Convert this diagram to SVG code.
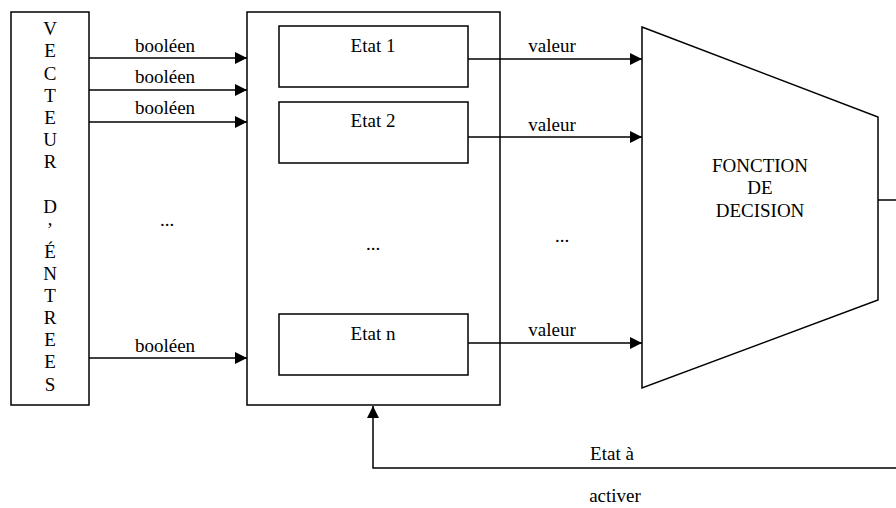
<svg xmlns="http://www.w3.org/2000/svg" width="896" height="508" viewBox="0 0 896 508">
<defs>
<marker id="arr" viewBox="0 0 12 12" refX="12" refY="6" markerWidth="12" markerHeight="12" markerUnits="userSpaceOnUse" orient="auto">
<path d="M0,0 L12,6 L0,12 Z" fill="#000"/>
</marker>
</defs>
<style>
.box{fill:#fff;stroke:#000;stroke-width:1.5}
.t{font-family:"Liberation Serif","Times New Roman",serif;font-size:19px;fill:#000;text-anchor:middle}
.c{fill:none;stroke:#000;stroke-width:1.5;marker-end:url(#arr)}
</style>
<rect width="896" height="508" fill="#fff"/>
<g id="vecteur">
<rect class="box" x="11" y="12" width="78" height="393"/>
<text class="t" x="50" y="35">V</text>
<text class="t" x="50" y="57">E</text>
<text class="t" x="50" y="80">C</text>
<text class="t" x="50" y="102">T</text>
<text class="t" x="50" y="124">E</text>
<text class="t" x="50" y="146">U</text>
<text class="t" x="50" y="168">R</text>
<text class="t" x="50" y="213">D</text>
<text class="t" x="50" y="236">’</text>
<text class="t" x="50" y="258">É</text>
<text class="t" x="50" y="280">N</text>
<text class="t" x="50" y="302">T</text>
<text class="t" x="50" y="324">R</text>
<text class="t" x="50" y="346">E</text>
<text class="t" x="50" y="368">E</text>
<text class="t" x="50" y="391">S</text>
</g>
<g id="etats">
<rect class="box" x="247" y="12" width="253" height="393"/>
<text class="t" x="373" y="250">...</text>
</g>
<g id="etat1">
<rect class="box" x="279" y="26" width="189" height="61"/>
<text class="t" x="373" y="52">Etat 1</text>
</g>
<g id="etat2">
<rect class="box" x="279" y="102" width="189" height="61"/>
<text class="t" x="373" y="127">Etat 2</text>
</g>
<g id="etatn">
<rect class="box" x="279" y="314" width="189" height="61"/>
<text class="t" x="373" y="340">Etat n</text>
</g>
<g id="decision">
<polygon class="box" points="642,27 878,117 878,300 642,388"/>
<text class="t" x="760" y="172">FONCTION</text>
<text class="t" x="760" y="194">DE</text>
<text class="t" x="760" y="217">DECISION</text>
</g>
<g id="connectors">
<path class="c" d="M89,58 H247"/>
<path class="c" d="M89,90 H247"/>
<path class="c" d="M89,122 H247"/>
<path class="c" d="M89,358 H247"/>
<path class="c" d="M468,59 H642"/>
<path class="c" d="M468,137 H642"/>
<path class="c" d="M468,343 H642"/>
<path class="c" d="M878,200 H900 V468 H373 V406"/>
</g>
<g id="labels">
<text class="t" x="165" y="52">booléen</text>
<text class="t" x="165" y="83">booléen</text>
<text class="t" x="165" y="114">booléen</text>
<text class="t" x="165" y="352">booléen</text>
<text class="t" x="167" y="226">...</text>
<text class="t" x="552" y="52">valeur</text>
<text class="t" x="552" y="131">valeur</text>
<text class="t" x="552" y="336">valeur</text>
<text class="t" x="562" y="242">...</text>
<text class="t" x="612" y="460">Etat à</text>
<text class="t" x="615" y="502">activer</text>
</g>
</svg>
